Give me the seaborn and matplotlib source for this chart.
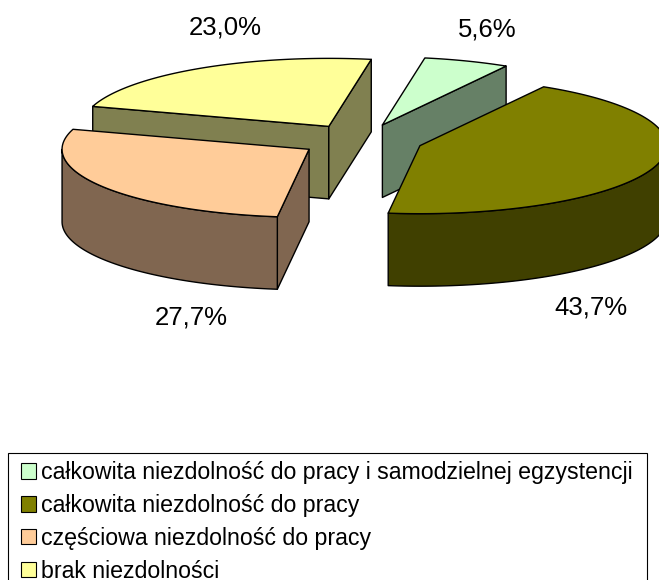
import numpy as np
import seaborn as sns
import matplotlib.pyplot as plt
from matplotlib.patches import Patch, Rectangle

# Data
labels = ['całkowita niezdolność do pracy i samodzielnej egzystencji',
          'całkowita niezdolność do pracy',
          'częściowa niezdolność do pracy',
          'brak niezdolności']
values = [5.6, 43.7, 27.7, 23.0]
value_labels = ['5,6%', '43,7%', '27,7%', '23,0%']
top_colors = ['#CCFFCC', '#808000', '#FFCC99', '#FFFF99']
side_colors = ['#668066', '#404000', '#806650', '#808050']

# Pie geometry in pixels
CENTER = (361.2, 140.4)
RADIUS = 247
SQUASH = 0.2754
DEPTH = 72.5
EXPLODE = 62
EXPLODE_SQUASH = 0.265
START = 9.9
label_pos = [(487, 29), (591, 307), (191, 318), (225, 27)]
draw_order = [3, 0, 2, 1]

sns.set_theme(style='white')
plt.rcParams['font.family'] = ['Liberation Sans', 'DejaVu Sans']

fig = plt.figure(figsize=(6.59, 5.80), dpi=100)
ax = fig.add_axes([0, 0, 1, 1])
ax.set_xlim(0, 659)
ax.set_ylim(580, 0)
ax.axis('off')


def rim(cx, cy, angles):
    rad = np.radians(angles)
    return cx + RADIUS * np.sin(rad), cy - RADIUS * SQUASH * np.cos(rad)


def face(xs, ys, color, z):
    ax.fill(xs, ys, facecolor=color, edgecolor='black', linewidth=1.0, zorder=z, joinstyle='round')


# angles go clockwise from the top
edges = START + np.cumsum([0] + values) * 3.6
for order, i in enumerate(draw_order):
    a0, a1 = edges[i], edges[i + 1]
    mid = np.radians((a0 + a1) / 2)
    cx = CENTER[0] + EXPLODE * np.sin(mid)
    cy = CENTER[1] - EXPLODE * EXPLODE_SQUASH * np.cos(mid)
    z = order * 3 + 1
    # cut walls, skip the ones facing away
    for a, visible in ((a0, np.sin(np.radians(a0)) < 0), (a1, np.sin(np.radians(a1)) > 0)):
        if visible:
            ex, ey = rim(cx, cy, a)
            face([cx, ex, ex, cx], [cy, ey, ey + DEPTH, cy + DEPTH], side_colors[i], z)
    # outer wall, only the part facing the viewer
    lo, hi = max(a0, 90), min(a1, 270)
    if lo < hi:
        xs, ys = rim(cx, cy, np.linspace(lo, hi, 80))
        face(np.r_[xs, xs[::-1]], np.r_[ys, ys[::-1] + DEPTH], side_colors[i], z + 1)
    # top
    xs, ys = rim(cx, cy, np.linspace(a0, a1, 120))
    face(np.r_[cx, xs], np.r_[cy, ys], top_colors[i], z + 2)

for text, pos in zip(value_labels, label_pos):
    ax.text(pos[0], pos[1], text, ha='center', va='center', fontsize=18.5, color='black', zorder=30)

# legend frame runs past the bottom of the picture
ax.add_patch(Rectangle((7.5, 452.5), 639, 140, facecolor='white', edgecolor='black', linewidth=0.8, zorder=31))
handles = [Patch(facecolor=c, edgecolor='black', linewidth=0.8) for c in top_colors]
leg = ax.legend(handles, labels, loc='upper left', bbox_to_anchor=(21 / 659, 1 - 461 / 580),
                borderaxespad=0, fontsize=16.65, frameon=False, handlelength=0.65, handleheight=0.65,
                handletextpad=0.2, labelspacing=0.43, borderpad=0, labelcolor='black')
leg.set_zorder(32)

fig.savefig('out.png', dpi=100)
